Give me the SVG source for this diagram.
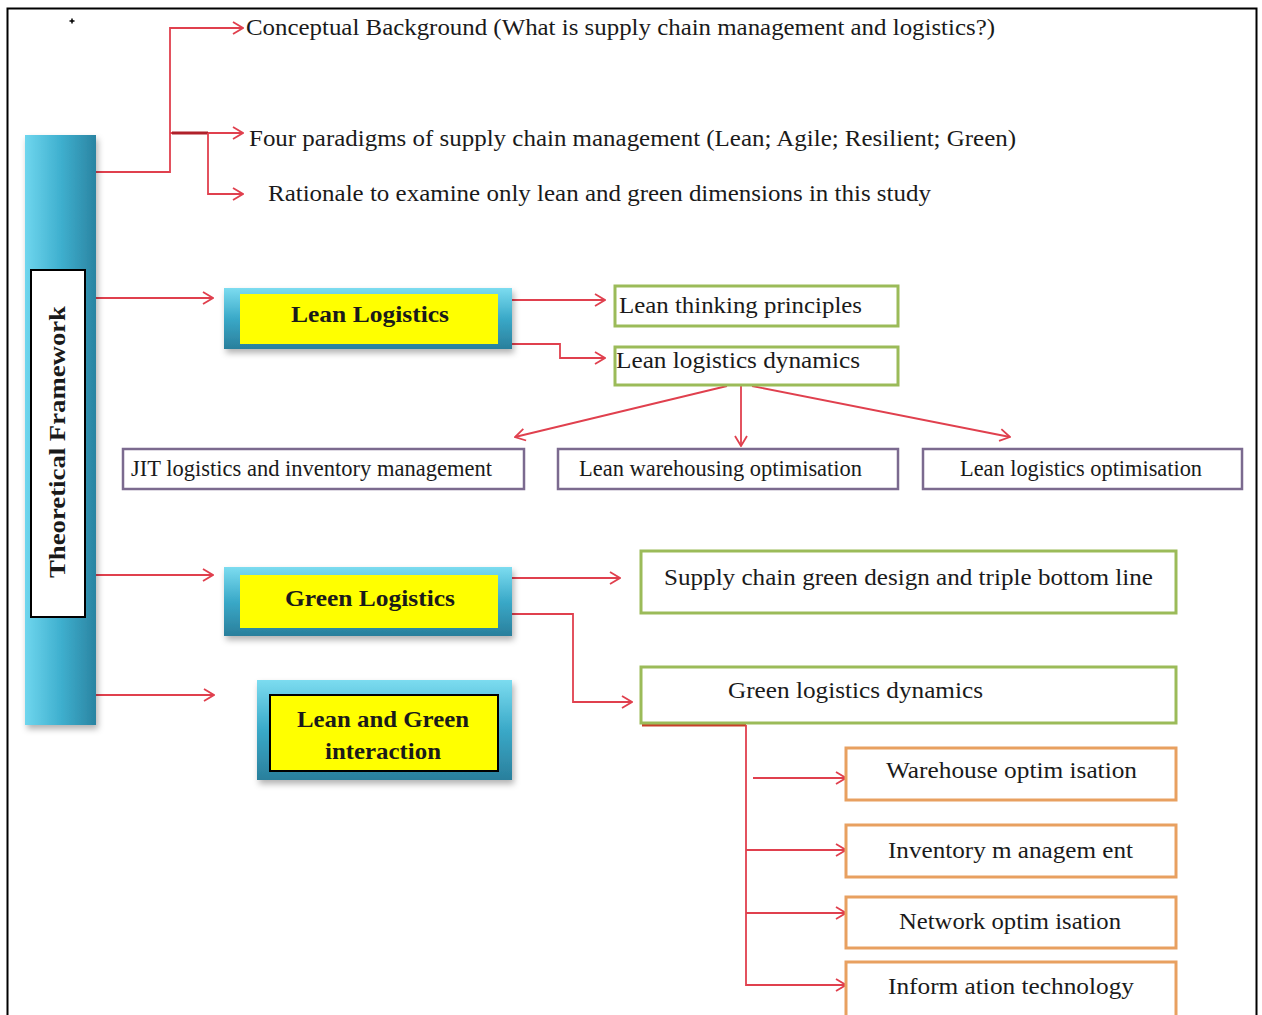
<svg xmlns="http://www.w3.org/2000/svg" width="1262" height="1015" viewBox="0 0 1262 1015">
<style>
.t{font-family:"Liberation Serif","Times New Roman",serif;fill:#1a1a1a;font-size:23px}
.b{font-weight:bold}
.c{fill:none;stroke:#e0404e;stroke-width:1.8}
.ca{fill:none;stroke:#e0404e;stroke-width:1.8;marker-end:url(#ah)}
.g{fill:#fff;stroke:#9bbb59;stroke-width:3}
.p{fill:#fff;stroke:#7b6a8f;stroke-width:2.5}
.o{fill:#fff;stroke:#e8a060;stroke-width:3}
.y{fill:#ffff00}
</style>
<defs>
<marker id="ah" viewBox="0 0 12 14" refX="11" refY="7" markerWidth="12" markerHeight="14" markerUnits="userSpaceOnUse" orient="auto">
<path d="M1,1 L11,7 L1,13" fill="none" stroke="#e0404e" stroke-width="1.8"/>
</marker>
<linearGradient id="tealH" x1="0" y1="0" x2="1" y2="0">
<stop offset="0" stop-color="#6fd6ee"/>
<stop offset="0.5" stop-color="#3fb0cf"/>
<stop offset="1" stop-color="#2a84a2"/>
</linearGradient>
<linearGradient id="tealV" x1="0" y1="0" x2="0" y2="1">
<stop offset="0" stop-color="#7cdcf0"/>
<stop offset="0.5" stop-color="#3aa9c8"/>
<stop offset="1" stop-color="#2a7f9c"/>
</linearGradient>
<filter id="sh" x="-10%" y="-10%" width="130%" height="140%">
<feDropShadow dx="2" dy="4" stdDeviation="3" flood-color="#000" flood-opacity="0.3"/>
</filter>
</defs>
<rect x="0" y="0" width="1262" height="1015" fill="#fff"/>
<rect x="7.5" y="8.5" width="1249" height="1010" fill="none" stroke="#000" stroke-width="2"/>
<path d="M69.5,21 H74.5 M72,18.5 V23.5" stroke="#000" stroke-width="1.5"/>

<g id="connectors">
<path class="c" d="M96,172 H170 V133"/>
<path class="ca" d="M170,133 V28 H243"/>
<path class="ca" d="M170,133 H243"/>
<path d="M172,133 H208" stroke="#b0202a" stroke-width="3" fill="none"/>
<path class="ca" d="M208,133 V194 H243"/>
<path class="ca" d="M96,298 H213"/>
<path class="ca" d="M512,300 H605"/>
<path class="ca" d="M512,344 H560 V358 H605"/>
<path class="ca" d="M727,386 L515,437"/>
<path class="ca" d="M741,386 V446"/>
<path class="ca" d="M752,386 L1010,437"/>
<path class="ca" d="M96,575 H213"/>
<path class="ca" d="M512,578 H620"/>
<path class="ca" d="M512,614 H573 V702 H632"/>
<path class="ca" d="M96,695 H214"/>
<path d="M642,725 H746" stroke="#c8402a" stroke-width="3" fill="none"/>
<path class="ca" d="M746,725 V985 H846"/>
<path class="ca" d="M753,778 H846"/>
<path class="ca" d="M746,850 H846"/>
<path class="ca" d="M746,913 H846"/>
</g>

<g id="theoretical-framework">
<rect x="25" y="135" width="71" height="590" fill="url(#tealH)" filter="url(#sh)"/>
<rect x="31" y="270" width="54" height="347" fill="#fff" stroke="#000" stroke-width="2"/>
<text class="t b" font-size="26" transform="translate(65,442) rotate(-90)" text-anchor="middle" textLength="272" lengthAdjust="spacingAndGlyphs">Theoretical  Framework</text>
</g>

<g id="conceptual">
<text class="t" x="246" y="35" textLength="749" lengthAdjust="spacingAndGlyphs">Conceptual Background (What is supply chain management and logistics?)</text>
</g>
<g id="paradigms">
<text class="t" x="249" y="146" textLength="767" lengthAdjust="spacingAndGlyphs">Four paradigms of supply chain management (Lean; Agile; Resilient; Green)</text>
</g>
<g id="rationale">
<text class="t" x="268" y="201" textLength="663" lengthAdjust="spacingAndGlyphs">Rationale to examine only lean and green dimensions in this study</text>
</g>

<g id="lean-logistics">
<rect x="224" y="288" width="288" height="61" fill="url(#tealV)" filter="url(#sh)"/>
<rect class="y" x="240" y="294" width="258" height="50"/>
<text class="t b" x="370" y="322" text-anchor="middle" textLength="158" lengthAdjust="spacingAndGlyphs">Lean Logistics</text>
</g>
<g id="lean-thinking">
<rect class="g" x="615" y="286" width="283" height="40"/>
<text class="t" x="619" y="313" textLength="243" lengthAdjust="spacingAndGlyphs">Lean thinking principles</text>
</g>
<g id="lean-dynamics">
<rect class="g" x="615" y="347" width="283" height="38"/>
<text class="t" x="616" y="368" textLength="244" lengthAdjust="spacingAndGlyphs">Lean logistics dynamics</text>
</g>
<g id="jit">
<rect class="p" x="123" y="449" width="401" height="40"/>
<text class="t" font-size="22" x="131" y="476" textLength="361" lengthAdjust="spacingAndGlyphs">JIT logistics and inventory management</text>
</g>
<g id="lean-warehousing">
<rect class="p" x="558" y="449" width="340" height="40"/>
<text class="t" font-size="22" x="579" y="476" textLength="283" lengthAdjust="spacingAndGlyphs">Lean warehousing optimisation</text>
</g>
<g id="lean-log-opt">
<rect class="p" x="923" y="449" width="319" height="40"/>
<text class="t" font-size="22" x="960" y="476" textLength="242" lengthAdjust="spacingAndGlyphs">Lean logistics optimisation</text>
</g>

<g id="green-logistics">
<rect x="224" y="567" width="288" height="69" fill="url(#tealV)" filter="url(#sh)"/>
<rect class="y" x="240" y="575" width="258" height="53"/>
<text class="t b" x="370" y="606" text-anchor="middle" textLength="170" lengthAdjust="spacingAndGlyphs">Green Logistics</text>
</g>
<g id="green-design">
<rect class="g" x="641" y="551" width="535" height="62"/>
<text class="t" x="664" y="585" textLength="489" lengthAdjust="spacingAndGlyphs">Supply chain green design and triple bottom line</text>
</g>
<g id="green-dynamics">
<rect class="g" x="641" y="667" width="535" height="56"/>
<text class="t" x="728" y="698" textLength="255" lengthAdjust="spacingAndGlyphs">Green logistics  dynamics</text>
</g>
<g id="lean-green">
<rect x="257" y="680" width="255" height="100" fill="url(#tealV)" filter="url(#sh)"/>
<rect class="y" x="270" y="695" width="228" height="76" stroke="#000" stroke-width="2"/>
<text class="t b" x="383" y="727" text-anchor="middle" textLength="172" lengthAdjust="spacingAndGlyphs">Lean and Green</text>
<text class="t b" x="383" y="759" text-anchor="middle" textLength="116" lengthAdjust="spacingAndGlyphs">interaction</text>
</g>

<g id="warehouse">
<rect class="o" x="846" y="748" width="330" height="52"/>
<text class="t" x="886" y="778" textLength="251" lengthAdjust="spacingAndGlyphs">Warehouse optim isation</text>
</g>
<g id="inventory">
<rect class="o" x="846" y="825" width="330" height="52"/>
<text class="t" x="888" y="858" textLength="245" lengthAdjust="spacingAndGlyphs">Inventory m anagem ent</text>
</g>
<g id="network">
<rect class="o" x="846" y="897" width="330" height="51"/>
<text class="t" x="899" y="929" textLength="222" lengthAdjust="spacingAndGlyphs">Network optim isation</text>
</g>
<g id="it">
<rect class="o" x="846" y="962" width="330" height="56"/>
<text class="t" x="888" y="994" textLength="246" lengthAdjust="spacingAndGlyphs">Inform ation technology</text>
</g>
</svg>
